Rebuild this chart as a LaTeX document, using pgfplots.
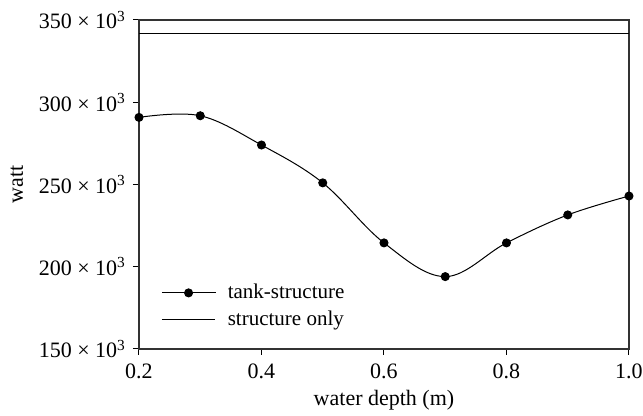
\documentclass[border=0pt]{standalone}
\usepackage{pgfplots}
\pgfplotsset{compat=1.18}
\usepackage{fontspec}
\setmainfont{Liberation Serif}

\begin{document}
\begin{tikzpicture}
\useasboundingbox (-69.5pt,-33.5pt) rectangle (252pt,174.5pt);
\begin{axis}[
  scale only axis,
  width=245pt, height=164.5pt,
  xmin=0.2, xmax=1.0,
  ymin=150000, ymax=350000,
  xtick={0.2,0.4,0.6,0.8,1.0},
  ytick={150000,200000,250000,300000,350000},
  yticklabels={150 × 10\textsuperscript{3},200 × 10\textsuperscript{3},250 × 10\textsuperscript{3},300 × 10\textsuperscript{3},350 × 10\textsuperscript{3}},
  scaled y ticks=false,
  ticklabel style={font=\fontsize{11}{13}\selectfont},
  xticklabel style={yshift=-1pt, /pgf/number format/.cd, fixed, fixed zerofill, precision=1, assume math mode=true},
  tick align=outside,
  xtick pos=bottom, ytick pos=left,
  major tick length=3pt,
  tick style={black, line width=0.5pt},
  axis line style={line width=0.6pt, black!80},
  xlabel={water depth (m)},
  ylabel={watt},
  label style={font=\fontsize{11}{13}\selectfont},
  xlabel style={yshift=1pt},
  ylabel style={yshift=1pt},
  legend style={draw=none, fill=none, at={(axis cs:0.226,157500)}, anchor=south west,
    font=\fontsize{10.5}{12}\selectfont, row sep=0.5pt,
    /tikz/every odd column/.append style={column sep=4pt}},
  legend image code/.code={
    \draw[#1, mark repeat=2, mark phase=2] plot coordinates {(0cm,0cm) (0.47cm,0cm) (0.94cm,0cm)};},
  legend cell align=left,
]
\addplot[black, line width=0.5pt, smooth, tension=0.6, mark=*, mark size=2pt] coordinates {
  (0.2,290800) (0.3,291800) (0.4,274000) (0.5,251000) (0.6,214500)
  (0.7,194000) (0.8,214500) (0.9,231500) (1.0,243000)
};
\addlegendentry{tank-structure}
\addplot[black, line width=0.5pt] coordinates {(0.2,341600) (1.0,341600)};
\addlegendentry{structure only}
\end{axis}
\end{tikzpicture}
\end{document}
